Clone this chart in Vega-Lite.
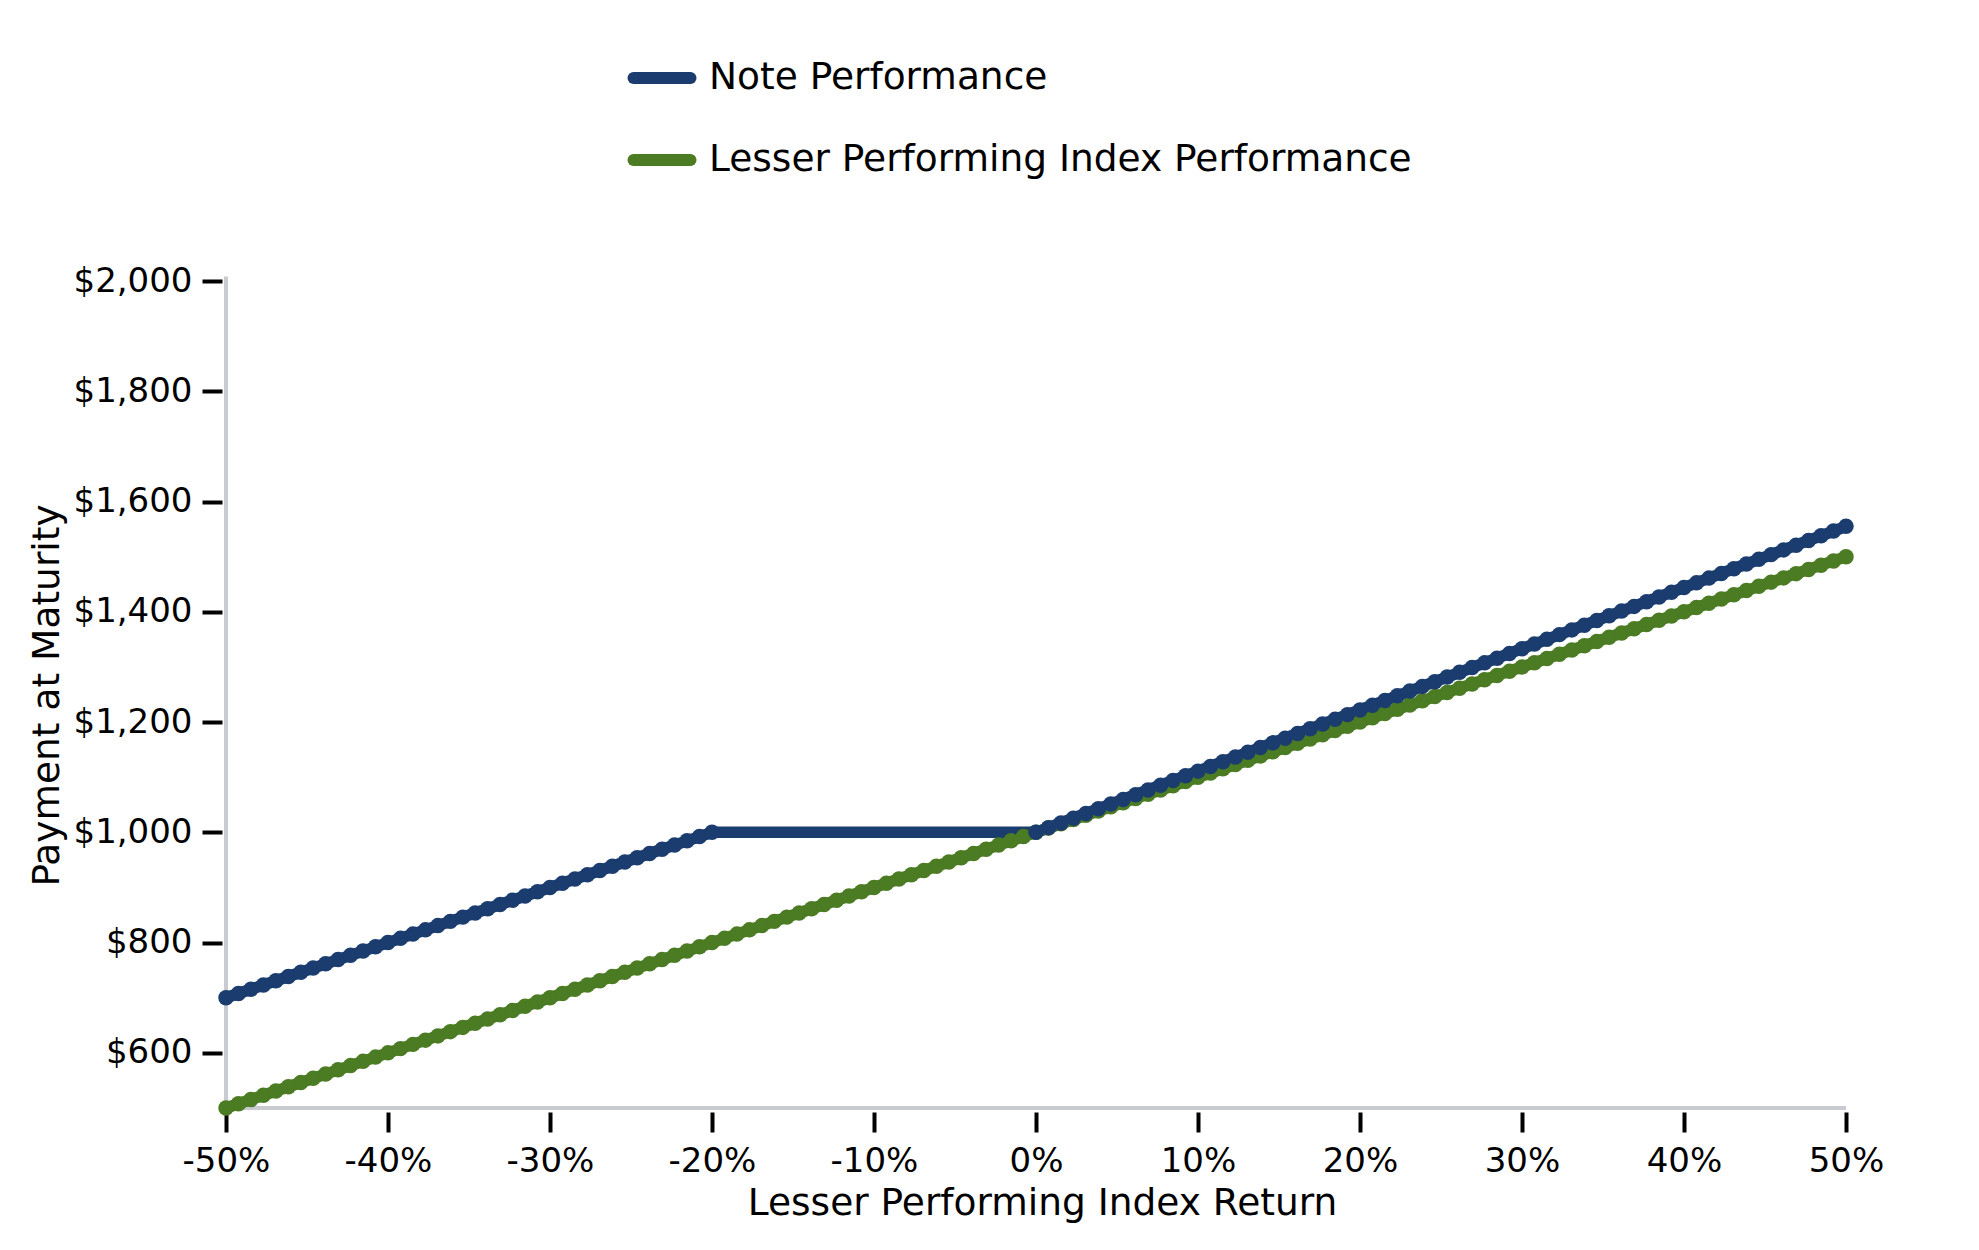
{
  "$schema": "https://vega.github.io/schema/vega-lite/v6.json",
  "width": 1620,
  "height": 827,
  "autosize": {"type": "none"},
  "padding": {"left": 226, "top": 281, "right": 133, "bottom": 142},
  "background": "white",
  "config": {
    "view": {"stroke": null},
    "font": "DejaVu Sans",
    "axis": {
      "domain": false,
      "grid": false,
      "ticks": true,
      "tickColor": "black",
      "tickWidth": 4,
      "tickSize": 20,
      "offset": 4,
      "labelFont": "DejaVu Sans",
      "labelFontSize": 34,
      "labelColor": "black",
      "labelFlush": false,
      "titleFont": "DejaVu Sans",
      "titleFontSize": 37.5,
      "titleFontWeight": "normal",
      "titleColor": "black"
    },
    "legend": {
      "labelFont": "DejaVu Sans",
      "labelFontSize": 37.5,
      "labelColor": "black",
      "labelLimit": 1200
    }
  },
  "data": {
    "values": [
      {"r": -50, "note": 700, "index": 500},
      {"r": -49.23, "note": 707.7, "index": 507.7},
      {"r": -48.46, "note": 715.4, "index": 515.4},
      {"r": -47.69, "note": 723.1, "index": 523.1},
      {"r": -46.92, "note": 730.8, "index": 530.8},
      {"r": -46.15, "note": 738.5, "index": 538.5},
      {"r": -45.38, "note": 746.2, "index": 546.2},
      {"r": -44.62, "note": 753.8, "index": 553.8},
      {"r": -43.85, "note": 761.5, "index": 561.5},
      {"r": -43.08, "note": 769.2, "index": 569.2},
      {"r": -42.31, "note": 776.9, "index": 576.9},
      {"r": -41.54, "note": 784.6, "index": 584.6},
      {"r": -40.77, "note": 792.3, "index": 592.3},
      {"r": -40, "note": 800, "index": 600},
      {"r": -39.23, "note": 807.7, "index": 607.7},
      {"r": -38.46, "note": 815.4, "index": 615.4},
      {"r": -37.69, "note": 823.1, "index": 623.1},
      {"r": -36.92, "note": 830.8, "index": 630.8},
      {"r": -36.15, "note": 838.5, "index": 638.5},
      {"r": -35.38, "note": 846.2, "index": 646.2},
      {"r": -34.62, "note": 853.8, "index": 653.8},
      {"r": -33.85, "note": 861.5, "index": 661.5},
      {"r": -33.08, "note": 869.2, "index": 669.2},
      {"r": -32.31, "note": 876.9, "index": 676.9},
      {"r": -31.54, "note": 884.6, "index": 684.6},
      {"r": -30.77, "note": 892.3, "index": 692.3},
      {"r": -30, "note": 900, "index": 700},
      {"r": -29.23, "note": 907.7, "index": 707.7},
      {"r": -28.46, "note": 915.4, "index": 715.4},
      {"r": -27.69, "note": 923.1, "index": 723.1},
      {"r": -26.92, "note": 930.8, "index": 730.8},
      {"r": -26.15, "note": 938.5, "index": 738.5},
      {"r": -25.38, "note": 946.2, "index": 746.2},
      {"r": -24.62, "note": 953.8, "index": 753.8},
      {"r": -23.85, "note": 961.5, "index": 761.5},
      {"r": -23.08, "note": 969.2, "index": 769.2},
      {"r": -22.31, "note": 976.9, "index": 776.9},
      {"r": -21.54, "note": 984.6, "index": 784.6},
      {"r": -20.77, "note": 992.3, "index": 792.3},
      {"r": -20, "note": 1000, "index": 800},
      {"r": -19.23, "note": 1000, "index": 807.7},
      {"r": -18.46, "note": 1000, "index": 815.4},
      {"r": -17.69, "note": 1000, "index": 823.1},
      {"r": -16.92, "note": 1000, "index": 830.8},
      {"r": -16.15, "note": 1000, "index": 838.5},
      {"r": -15.38, "note": 1000, "index": 846.2},
      {"r": -14.62, "note": 1000, "index": 853.8},
      {"r": -13.85, "note": 1000, "index": 861.5},
      {"r": -13.08, "note": 1000, "index": 869.2},
      {"r": -12.31, "note": 1000, "index": 876.9},
      {"r": -11.54, "note": 1000, "index": 884.6},
      {"r": -10.77, "note": 1000, "index": 892.3},
      {"r": -10, "note": 1000, "index": 900},
      {"r": -9.23, "note": 1000, "index": 907.7},
      {"r": -8.46, "note": 1000, "index": 915.4},
      {"r": -7.69, "note": 1000, "index": 923.1},
      {"r": -6.92, "note": 1000, "index": 930.8},
      {"r": -6.15, "note": 1000, "index": 938.5},
      {"r": -5.38, "note": 1000, "index": 946.2},
      {"r": -4.62, "note": 1000, "index": 953.8},
      {"r": -3.85, "note": 1000, "index": 961.5},
      {"r": -3.08, "note": 1000, "index": 969.2},
      {"r": -2.31, "note": 1000, "index": 976.9},
      {"r": -1.54, "note": 1000, "index": 984.6},
      {"r": -0.77, "note": 1000, "index": 992.3},
      {"r": 0, "note": 1000, "index": 1000},
      {"r": 0.77, "note": 1008.5, "index": 1007.7},
      {"r": 1.54, "note": 1017.1, "index": 1015.4},
      {"r": 2.31, "note": 1025.6, "index": 1023.1},
      {"r": 3.08, "note": 1034.2, "index": 1030.8},
      {"r": 3.85, "note": 1042.7, "index": 1038.5},
      {"r": 4.62, "note": 1051.3, "index": 1046.2},
      {"r": 5.38, "note": 1059.7, "index": 1053.8},
      {"r": 6.15, "note": 1068.3, "index": 1061.5},
      {"r": 6.92, "note": 1076.8, "index": 1069.2},
      {"r": 7.69, "note": 1085.4, "index": 1076.9},
      {"r": 8.46, "note": 1093.9, "index": 1084.6},
      {"r": 9.23, "note": 1102.5, "index": 1092.3},
      {"r": 10, "note": 1111, "index": 1100},
      {"r": 10.77, "note": 1119.5, "index": 1107.7},
      {"r": 11.54, "note": 1128.1, "index": 1115.4},
      {"r": 12.31, "note": 1136.6, "index": 1123.1},
      {"r": 13.08, "note": 1145.2, "index": 1130.8},
      {"r": 13.85, "note": 1153.7, "index": 1138.5},
      {"r": 14.62, "note": 1162.3, "index": 1146.2},
      {"r": 15.38, "note": 1170.7, "index": 1153.8},
      {"r": 16.15, "note": 1179.3, "index": 1161.5},
      {"r": 16.92, "note": 1187.8, "index": 1169.2},
      {"r": 17.69, "note": 1196.4, "index": 1176.9},
      {"r": 18.46, "note": 1204.9, "index": 1184.6},
      {"r": 19.23, "note": 1213.5, "index": 1192.3},
      {"r": 20, "note": 1222, "index": 1200},
      {"r": 20.77, "note": 1230.5, "index": 1207.7},
      {"r": 21.54, "note": 1239.1, "index": 1215.4},
      {"r": 22.31, "note": 1247.6, "index": 1223.1},
      {"r": 23.08, "note": 1256.2, "index": 1230.8},
      {"r": 23.85, "note": 1264.7, "index": 1238.5},
      {"r": 24.62, "note": 1273.3, "index": 1246.2},
      {"r": 25.38, "note": 1281.7, "index": 1253.8},
      {"r": 26.15, "note": 1290.3, "index": 1261.5},
      {"r": 26.92, "note": 1298.8, "index": 1269.2},
      {"r": 27.69, "note": 1307.4, "index": 1276.9},
      {"r": 28.46, "note": 1315.9, "index": 1284.6},
      {"r": 29.23, "note": 1324.5, "index": 1292.3},
      {"r": 30, "note": 1333, "index": 1300},
      {"r": 30.77, "note": 1341.5, "index": 1307.7},
      {"r": 31.54, "note": 1350.1, "index": 1315.4},
      {"r": 32.31, "note": 1358.6, "index": 1323.1},
      {"r": 33.08, "note": 1367.2, "index": 1330.8},
      {"r": 33.85, "note": 1375.7, "index": 1338.5},
      {"r": 34.62, "note": 1384.3, "index": 1346.2},
      {"r": 35.38, "note": 1392.7, "index": 1353.8},
      {"r": 36.15, "note": 1401.3, "index": 1361.5},
      {"r": 36.92, "note": 1409.8, "index": 1369.2},
      {"r": 37.69, "note": 1418.4, "index": 1376.9},
      {"r": 38.46, "note": 1426.9, "index": 1384.6},
      {"r": 39.23, "note": 1435.5, "index": 1392.3},
      {"r": 40, "note": 1444, "index": 1400},
      {"r": 40.77, "note": 1452.5, "index": 1407.7},
      {"r": 41.54, "note": 1461.1, "index": 1415.4},
      {"r": 42.31, "note": 1469.6, "index": 1423.1},
      {"r": 43.08, "note": 1478.2, "index": 1430.8},
      {"r": 43.85, "note": 1486.7, "index": 1438.5},
      {"r": 44.62, "note": 1495.3, "index": 1446.2},
      {"r": 45.38, "note": 1503.7, "index": 1453.8},
      {"r": 46.15, "note": 1512.3, "index": 1461.5},
      {"r": 46.92, "note": 1520.8, "index": 1469.2},
      {"r": 47.69, "note": 1529.4, "index": 1476.9},
      {"r": 48.46, "note": 1537.9, "index": 1484.6},
      {"r": 49.23, "note": 1546.5, "index": 1492.3},
      {"r": 50, "note": 1555, "index": 1500}
    ]
  },
  "transform": [
    {"fold": ["index", "note"], "as": ["key", "payment"]},
    {"lookup": "key", "from": {"data": {"values": [
      {"key": "note", "series": "Note Performance"},
      {"key": "index", "series": "Lesser Performing Index Performance"}
    ]}, "key": "key", "fields": ["series"]}}
  ],
  "layer": [
    {
      "data": {"values": [{}]},
      "transform": [],
      "mark": {"type": "rule", "color": "#c8ccd1", "strokeWidth": 4},
      "encoding": {
        "x": {"datum": -50, "type": "quantitative", "scale": {"domain": [-50, 50], "nice": false, "zero": false}},
        "y": {"datum": 500, "type": "quantitative", "scale": {"domain": [500, 2000], "nice": false, "zero": false}},
        "y2": {"datum": 2008}
      }
    },
    {
      "data": {"values": [{}]},
      "transform": [],
      "mark": {"type": "rule", "color": "#c8ccd1", "strokeWidth": 4},
      "encoding": {
        "x": {"datum": -50, "type": "quantitative", "scale": {"domain": [-50, 50], "nice": false, "zero": false}},
        "x2": {"datum": 50},
        "y": {"datum": 500, "type": "quantitative", "scale": {"domain": [500, 2000], "nice": false, "zero": false}}
      }
    },
    {
      "mark": {"type": "line", "strokeWidth": 11.5, "strokeCap": "round", "strokeJoin": "round"},
      "encoding": {
        "x": {
          "field": "r",
          "type": "quantitative",
          "scale": {"domain": [-50, 50], "nice": false, "zero": false},
          "axis": {
            "values": [-50, -40, -30, -20, -10, 0, 10, 20, 30, 40, 50],
            "labelExpr": "datum.value + '%'",
            "labelPadding": 12,
            "title": "Lesser Performing Index Return",
            "titleX": 816,
            "titleY": 91,
            "titleBaseline": "middle"
          }
        },
        "y": {
          "field": "payment",
          "type": "quantitative",
          "scale": {"domain": [500, 2000], "nice": false, "zero": false},
          "axis": {
            "values": [600, 800, 1000, 1200, 1400, 1600, 1800, 2000],
            "format": "$,.0f",
            "labelPadding": 10,
            "title": "Payment at Maturity",
            "titleX": -175,
            "titleY": 414,
            "titleBaseline": "middle"
          }
        },
        "color": {
          "field": "series",
          "type": "nominal",
          "scale": {
            "domain": ["Note Performance", "Lesser Performing Index Performance"],
            "range": ["#1b3c6e", "#4b7b23"]
          },
          "legend": {
            "title": null,
            "orient": "none",
            "legendX": 401,
            "legendY": -238,
            "direction": "vertical",
            "symbolType": "stroke",
            "symbolStrokeWidth": 12,
            "symbolSize": 3250,
            "labelOffset": 12,
            "rowPadding": 23,
            "encode": {"symbols": {"update": {"strokeCap": {"value": "round"}}}}
          }
        },
        "detail": {"field": "key"},
        "order": {"field": "r"}
      }
    },
    {
      "transform": [{"filter": "datum.key == 'index'"}],
      "mark": {"type": "circle", "size": 240, "opacity": 1, "color": "#4b7b23"},
      "encoding": {
        "x": {"field": "r", "type": "quantitative"},
        "y": {"field": "payment", "type": "quantitative"}
      }
    },
    {
      "transform": [{"filter": "datum.key == 'note' && (datum.r <= -20 || datum.r >= 0)"}],
      "mark": {"type": "circle", "size": 240, "opacity": 1, "color": "#1b3c6e"},
      "encoding": {
        "x": {"field": "r", "type": "quantitative"},
        "y": {"field": "payment", "type": "quantitative"}
      }
    }
  ]
}
